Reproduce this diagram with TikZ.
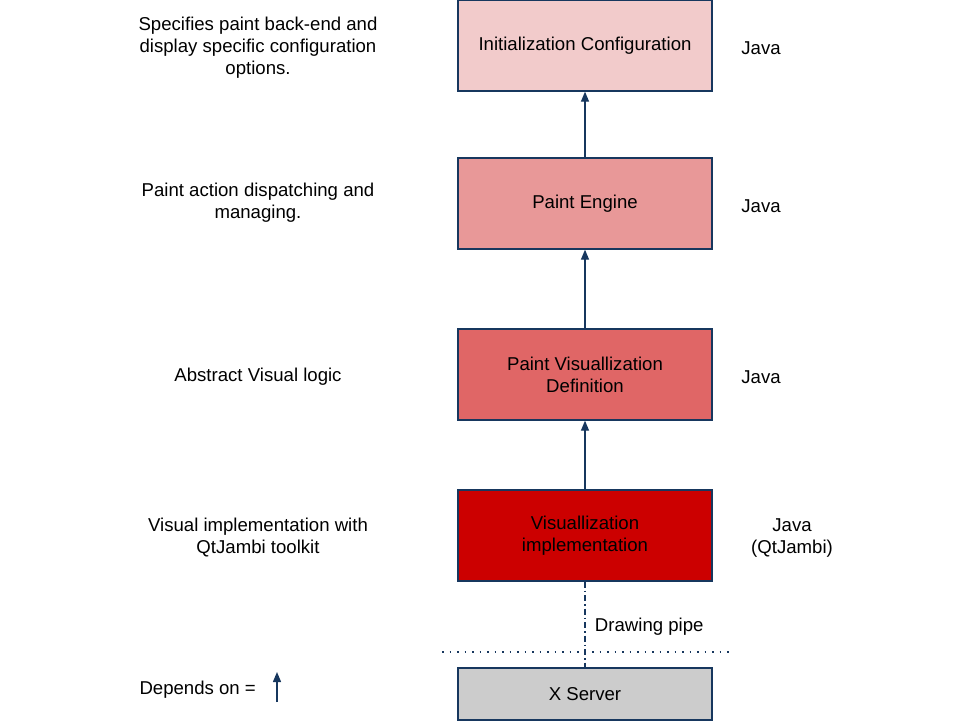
\documentclass[tikz,border=0pt]{standalone}
\usepackage{fontspec}
\setmainfont{Liberation Sans}
\usetikzlibrary{positioning,arrows.meta}

\definecolor{linkblue}{HTML}{17375E}
\definecolor{layerA}{HTML}{F2CBCB}
\definecolor{layerB}{HTML}{E89898}
\definecolor{layerC}{HTML}{E06666}
\definecolor{layerD}{HTML}{CC0000}
\definecolor{layerX}{HTML}{CCCCCC}

\tikzset{
	layer/.style={draw=linkblue,line width=1.3pt,minimum width=254pt,minimum height=91pt,inner sep=0pt,align=center,font=\fontsize{18.6}{22}\selectfont},
	note/.style={align=center,font=\fontsize{18.6}{22}\selectfont},
	dep/.style={draw=linkblue,line width=1.3pt,-{Triangle[length=10pt,width=8pt]}},
}

\begin{document}
\begin{tikzpicture}[x=1pt,y=-1pt]
		\useasboundingbox (0,0) rectangle (960,720);
		\node[layer,fill=layerA] (init) at (585,45.5) {Initialization Configuration};
		\node[layer,fill=layerB] (engine) at (585,203.5) {Paint Engine};
		\node[layer,fill=layerC] (vdef) at (585,374.5) {Paint Visuallization\\Definition};
		\node[layer,fill=layerD] (vimpl) at (585,535.5) {Visuallization\\implementation};
		\node[layer,fill=layerX,minimum height=52pt] (xserver) at (585,694) {X Server};
		%
		\node[note] (initdesc) at (258,48) {Specifies paint back-end and\\display specific configuration\\options.};
		\node[note] (enginedesc) at (258,203) {Paint action dispatching and\\managing.};
		\node[note] (vdefdesc) at (258,377) {Abstract Visual logic};
		\node[note] (vimpldesc) at (258,538) {Visual implementation with\\QtJambi toolkit};
		%
		\node[note] (initlang) at (761,48) {Java};
		\node[note] (enginelang) at (761,206) {Java};
		\node[note] (vdeflang) at (761,377) {Java};
		\node[note] (vimpllang) at (792,538) {Java\\(QtJambi)};
		%
		\draw[dep] (engine) -- (init);
		\draw[dep] (vdef) -- (engine);
		\draw[dep] (vimpl) -- (vdef);
		\draw[draw=linkblue,line width=1.3pt,dash pattern=on 6pt off 3pt on 1.5pt off 3pt] (vimpl) -- (xserver)
			node[note,pos=0.5,right=6pt,anchor=west,yshift=-2pt] (pipe) {Drawing pipe};
		\coordinate (sepl) at (442,652);
		\coordinate (sepr) at (732,652);
		\draw[linkblue,line width=1.3pt,dash pattern=on 1.5pt off 6pt] (sepl) -- (sepr);
		%
		\node[note,anchor=west] (legend) at (136,690) {Depends on =};
		\coordinate (legbot) at (277,702);
		\coordinate (legtop) at (277,672);
		\draw[dep] (legbot) -- (legtop);
	\end{tikzpicture}
\end{document}
